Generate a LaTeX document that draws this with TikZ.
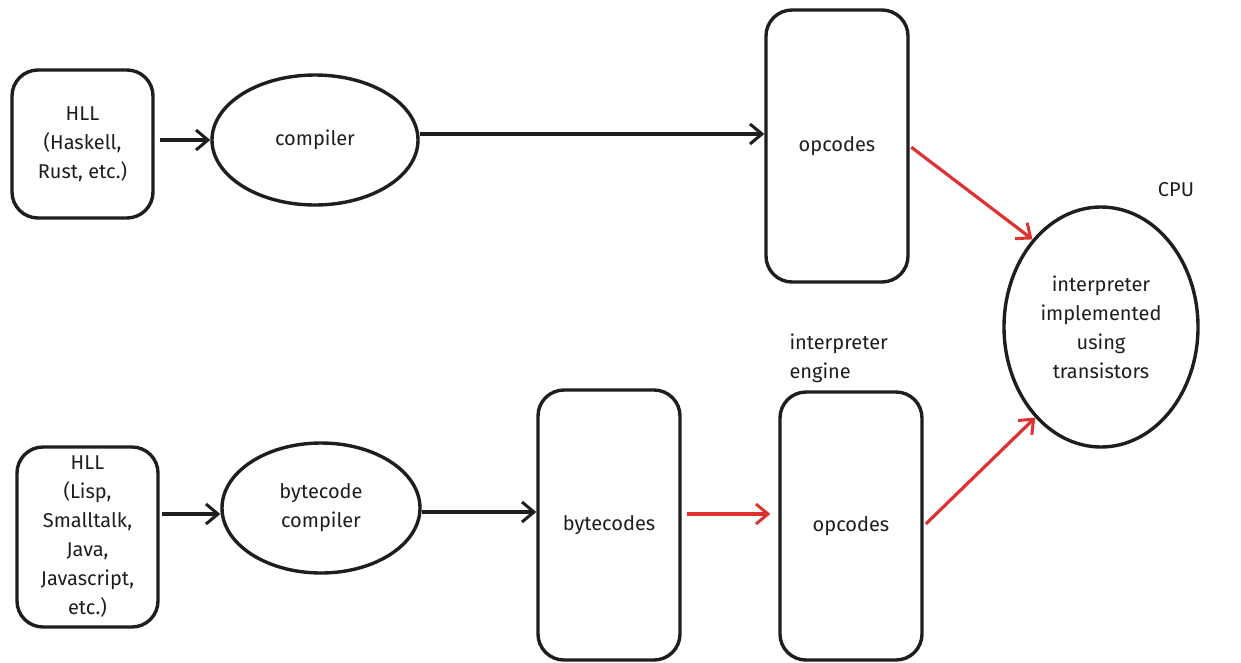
\documentclass[tikz,border=0pt]{standalone}
\usepackage{fontspec}
\setmainfont{Fira Sans}
\usetikzlibrary{shapes.geometric,arrows.meta}
\definecolor{xred}{RGB}{224,49,49}
\definecolor{xink}{RGB}{30,30,30}
\begin{document}
\begin{tikzpicture}[x=1pt,y=-1pt,
  every node/.style={font=\fontsize{20}{29}\selectfont, align=center, text=xink},
  rbox/.style={draw=xink, line width=3.4pt, rounded corners=26pt, inner sep=0pt},
  ell/.style={draw=xink, line width=3.4pt, ellipse, inner sep=0pt},
  arr/.style={draw=xink, line width=3.2pt, -{Straight Barb[length=12pt,width=20pt,line width=3pt]}},
  thickarr/.style={arr, line width=4.2pt},
  redarr/.style={draw=xred, line width=3.2pt, -{Straight Barb[length=12pt,width=20pt,line width=3pt]}}]
\useasboundingbox (0,0) rectangle (1241,662);
\node[rbox, minimum width=141pt, minimum height=148pt] (hll1) at (82.5,144) {HLL\\(Haskell,\\Rust, etc.)};
\node[ell, minimum width=206pt, minimum height=130pt] (comp) at (315,140) {compiler};
\node[rbox, minimum width=142pt, minimum height=272pt] (op1) at (837,146) {opcodes};
\node[ell, minimum width=194pt, minimum height=240pt] (cpu) at (1101,327) {interpreter\\implemented\\using\\transistors};
\node (cpulbl) at (1176,190) {CPU};
\node[rbox, minimum width=141pt, minimum height=180pt] (hll2) at (87.5,537) {HLL\\(Lisp,\\Smalltalk,\\Java,\\Javascript,\\etc.)};
\node[ell, minimum width=198pt, minimum height=130pt] (bc) at (321,508) {bytecode\\compiler};
\node[rbox, minimum width=142pt, minimum height=270pt] (bytes) at (609,525) {bytecodes};
\node[rbox, minimum width=142pt, minimum height=268pt] (op2) at (851,526) {opcodes};
\node[anchor=west, align=left] (engine) at (786,358) {interpreter\\engine};
\draw[arr, shorten <=5pt] (hll1.east) ++(0,-4) coordinate (h1) -- (h1 -| comp.west);
\draw[thickarr] (comp.east) ++(0,-6) coordinate (c1) -- (c1 -| op1.west);
\draw[thickarr, shorten <=2pt] (hll2.east) ++(0,-23) coordinate (h2) -- (h2 -| bc.west);
\draw[arr] (bc.east) ++(0,4) coordinate (b1) -- (b1 -| bytes.west);
\draw[redarr, shorten <=5pt, shorten >=8pt] (bytes.east) ++(0,-11) coordinate (r1) -- (r1 -| op2.west);
\draw[redarr, shorten <=2pt] (op1.east) -- (cpu.128);
\draw[redarr, shorten <=3pt] (op2.east) -- (cpu.234);
\end{tikzpicture}
\end{document}
